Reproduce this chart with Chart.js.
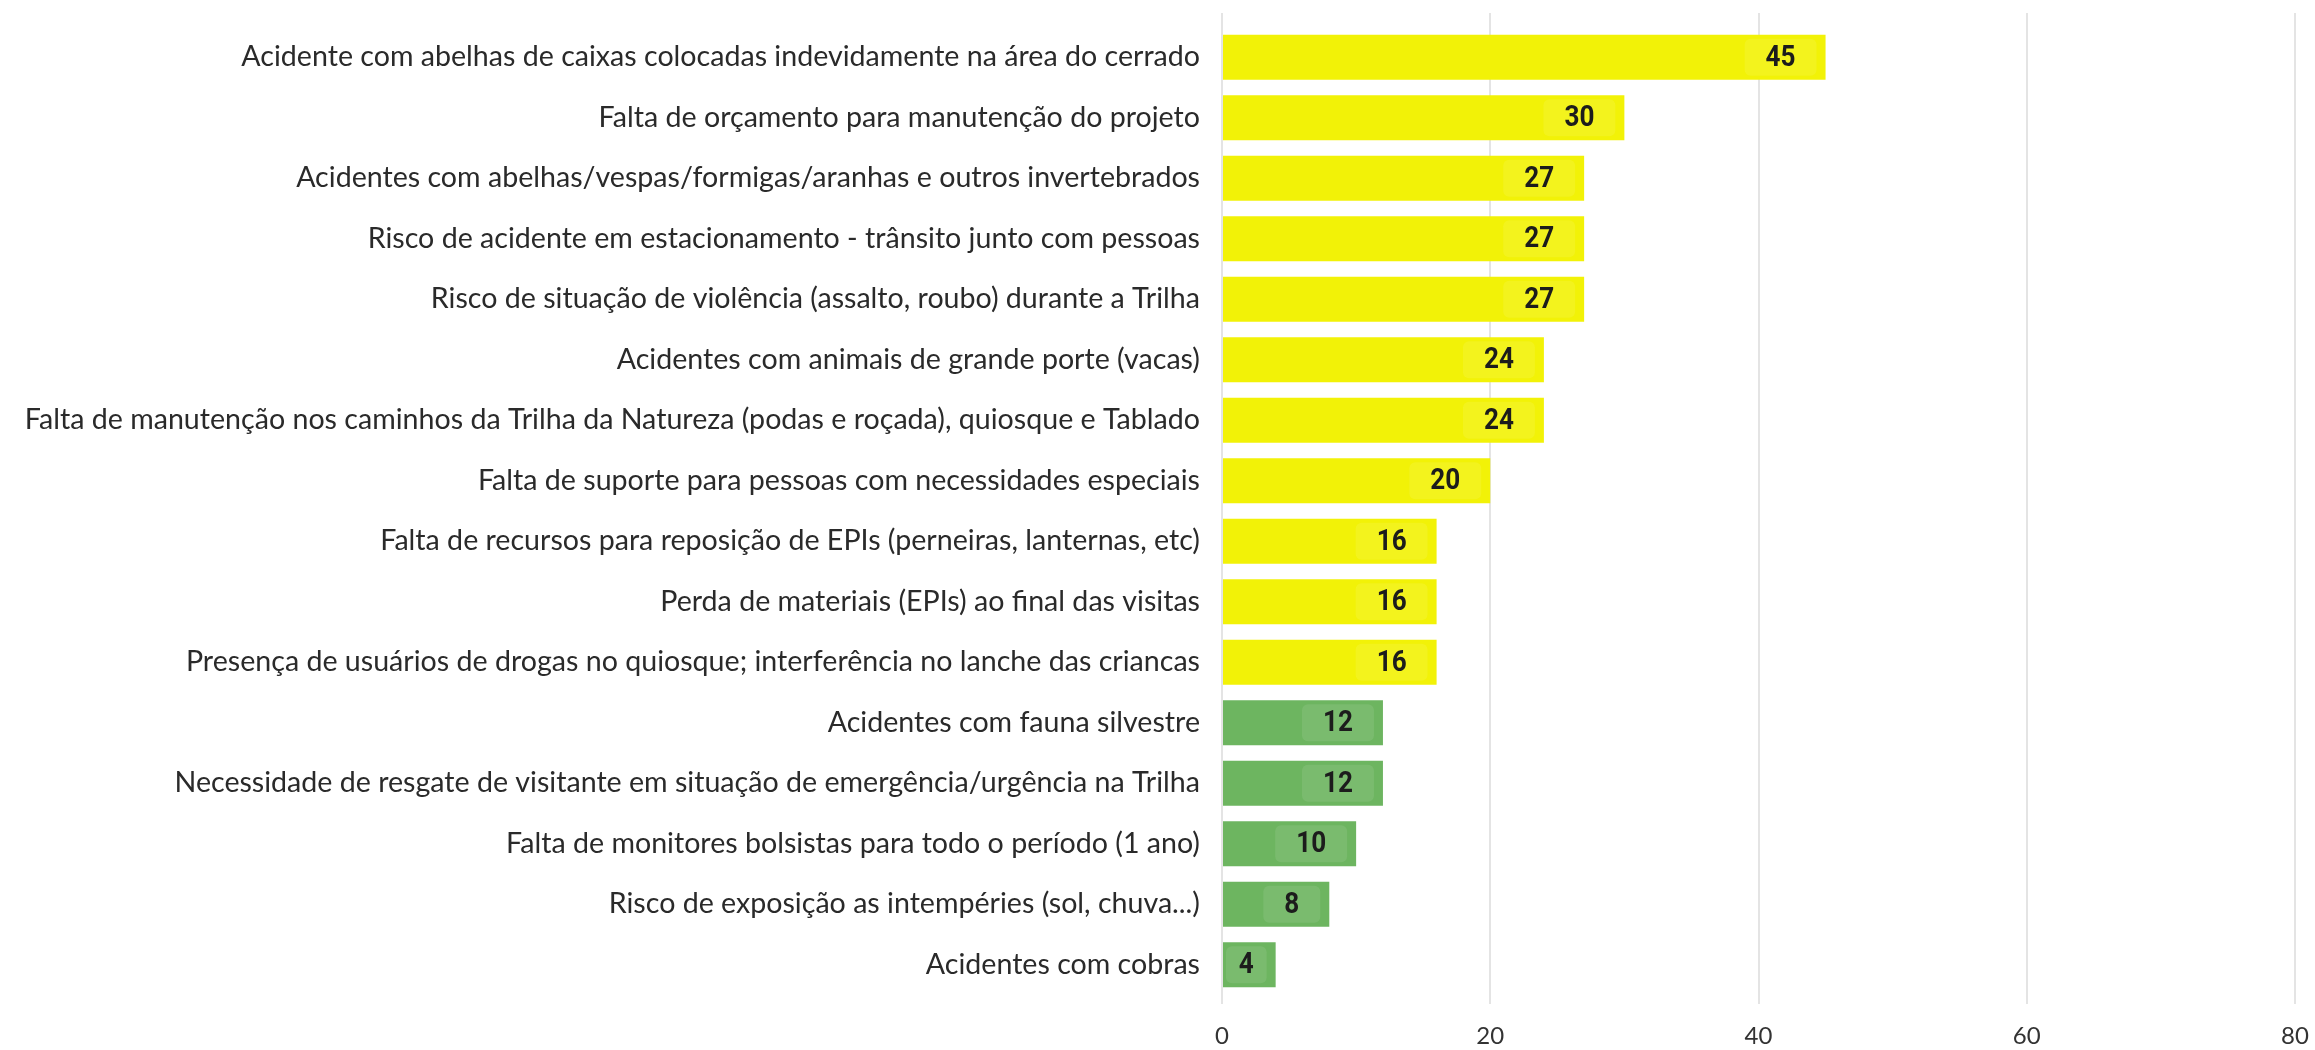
<!DOCTYPE html>
<html>
<head>
<meta charset="utf-8">
<script src="https://cdn.jsdelivr.net/npm/chart.js@4"></script>
<style>
    html, body { margin: 0; padding: 0; background: #fff; }
    #wrap { width: 2315px; height: 1050px; }
</style>
</head>
<body>
<div id="wrap"><canvas id="riscos"></canvas></div>
<script>
// data
const categorias = [
    'Acidente com abelhas de caixas colocadas indevidamente na área do cerrado',
    'Falta de orçamento para manutenção do projeto',
    'Acidentes com abelhas/vespas/formigas/aranhas e outros invertebrados',
    'Risco de acidente em estacionamento - trânsito junto com pessoas',
    'Risco de situação de violência (assalto, roubo) durante a Trilha',
    'Acidentes com animais de grande porte (vacas)',
    'Falta de manutenção nos caminhos da Trilha da Natureza (podas e roçada), quiosque e Tablado',
    'Falta de suporte para pessoas com necessidades especiais',
    'Falta de recursos para reposição de EPIs (perneiras, lanternas, etc)',
    'Perda de materiais (EPIs) ao final das visitas',
    'Presença de usuários de drogas no quiosque; interferência no lanche das criancas',
    'Acidentes com fauna silvestre',
    'Necessidade de resgate de visitante em situação de emergência/urgência na Trilha',
    'Falta de monitores bolsistas para todo o período (1 ano)',
    'Risco de exposição as intempéries (sol, chuva...)',
    'Acidentes com cobras'
];
const valores = [45, 30, 27, 27, 27, 24, 24, 20, 16, 16, 16, 12, 12, 10, 8, 4];
const grupo = ['alto', 'alto', 'alto', 'alto', 'alto', 'alto', 'alto', 'alto', 'alto', 'alto', 'alto',
    'medio', 'medio', 'medio', 'medio', 'medio'];
const ticksX = [0, 20, 40, 60, 80];

const AMARELO = '#f2f207';
const VERDE = '#6db560';
const GRADE = '#e4e4e4';
const FONTE = 'Lato, "Open Sans", sans-serif';

// etiqueta com caixinha clara perto do fim da barra
const etiquetas = {
    id: 'etiquetas',
    afterDatasetsDraw(chart) {
        const ctx = chart.ctx;
        const meta = chart.getDatasetMeta(0);
        const esticar = 0.87; // numeros mais estreitos, tipo DIN
        ctx.save();
        ctx.font = 'bold 30px Roboto, "DejaVu Sans", sans-serif';
        ctx.textAlign = 'center';
        ctx.textBaseline = 'middle';
        meta.data.forEach(function (bar, i) {
            const txt = String(valores[i]);
            const tw = ctx.measureText(txt).width * esticar;
            const w = tw + 42;
            const h = bar.height - 8;
            let right = bar.x - 9;
            let left = right - w;
            if (left < bar.base + 3) {
                left = bar.base + 3;
                right = Math.min(right, left + w);
            }
            ctx.fillStyle = 'rgba(255,255,255,0.09)';
            ctx.beginPath();
            ctx.roundRect(left, bar.y - h / 2, right - left, h, 6);
            ctx.fill();
            ctx.fillStyle = '#1c1c1c';
            ctx.save();
            ctx.translate((left + right) / 2, bar.y + 1);
            ctx.scale(esticar, 1);
            ctx.fillText(txt, 0, 0);
            ctx.restore();
        });
        ctx.restore();
    }
};

new Chart(document.getElementById('riscos'), {
    type: 'bar',
    data: {
        labels: categorias,
        datasets: [{
            data: valores,
            backgroundColor: grupo.map(g => g === 'alto' ? AMARELO : VERDE),
            borderWidth: 0,
            barPercentage: 0.74,
            categoryPercentage: 1
        }]
    },
    options: {
        indexAxis: 'y',
        responsive: true,
        maintainAspectRatio: false,
        animation: false,
        layout: { padding: { top: 13, right: 20, bottom: 0, left: 0 } },
        plugins: {
            legend: { display: false },
            tooltip: { enabled: false }
        },
        scales: {
            x: {
                min: 0,
                max: 80,
                afterBuildTicks(scale) {
                    scale.ticks = ticksX.map(v => ({ value: v }));
                },
                afterFit(scale) {
                    scale.height = 55;
                    scale.paddingRight = 0;
                    scale.paddingLeft = 0;
                },
                grid: { color: GRADE, lineWidth: 2, drawTicks: true, tickLength: 9 },
                border: { display: false },
                ticks: { color: '#333', padding: 18, font: { family: FONTE, size: 24 } }
            },
            xTopo: {
                position: 'top',
                axis: 'x',
                min: 0,
                max: 80,
                afterBuildTicks(scale) {
                    scale.ticks = ticksX.map(v => ({ value: v }));
                },
                afterFit(scale) {
                    scale.height = 14;
                    scale.paddingRight = 0;
                    scale.paddingLeft = 0;
                },
                grid: { color: GRADE, lineWidth: 2, drawTicks: true, tickLength: 14 },
                border: { display: false },
                ticks: { display: false }
            },
            y: {
                afterFit(scale) {
                    scale.width = 1222;
                    scale.paddingTop = 0;
                    scale.paddingBottom = 0;
                },
                grid: { display: false, drawTicks: false },
                border: { display: false },
                ticks: { color: '#2a2a2a', padding: 22, autoSkip: false, font: { family: FONTE, size: 28.6 } }
            }
        }
    },
    plugins: [etiquetas]
});
</script>
</body>
</html>
